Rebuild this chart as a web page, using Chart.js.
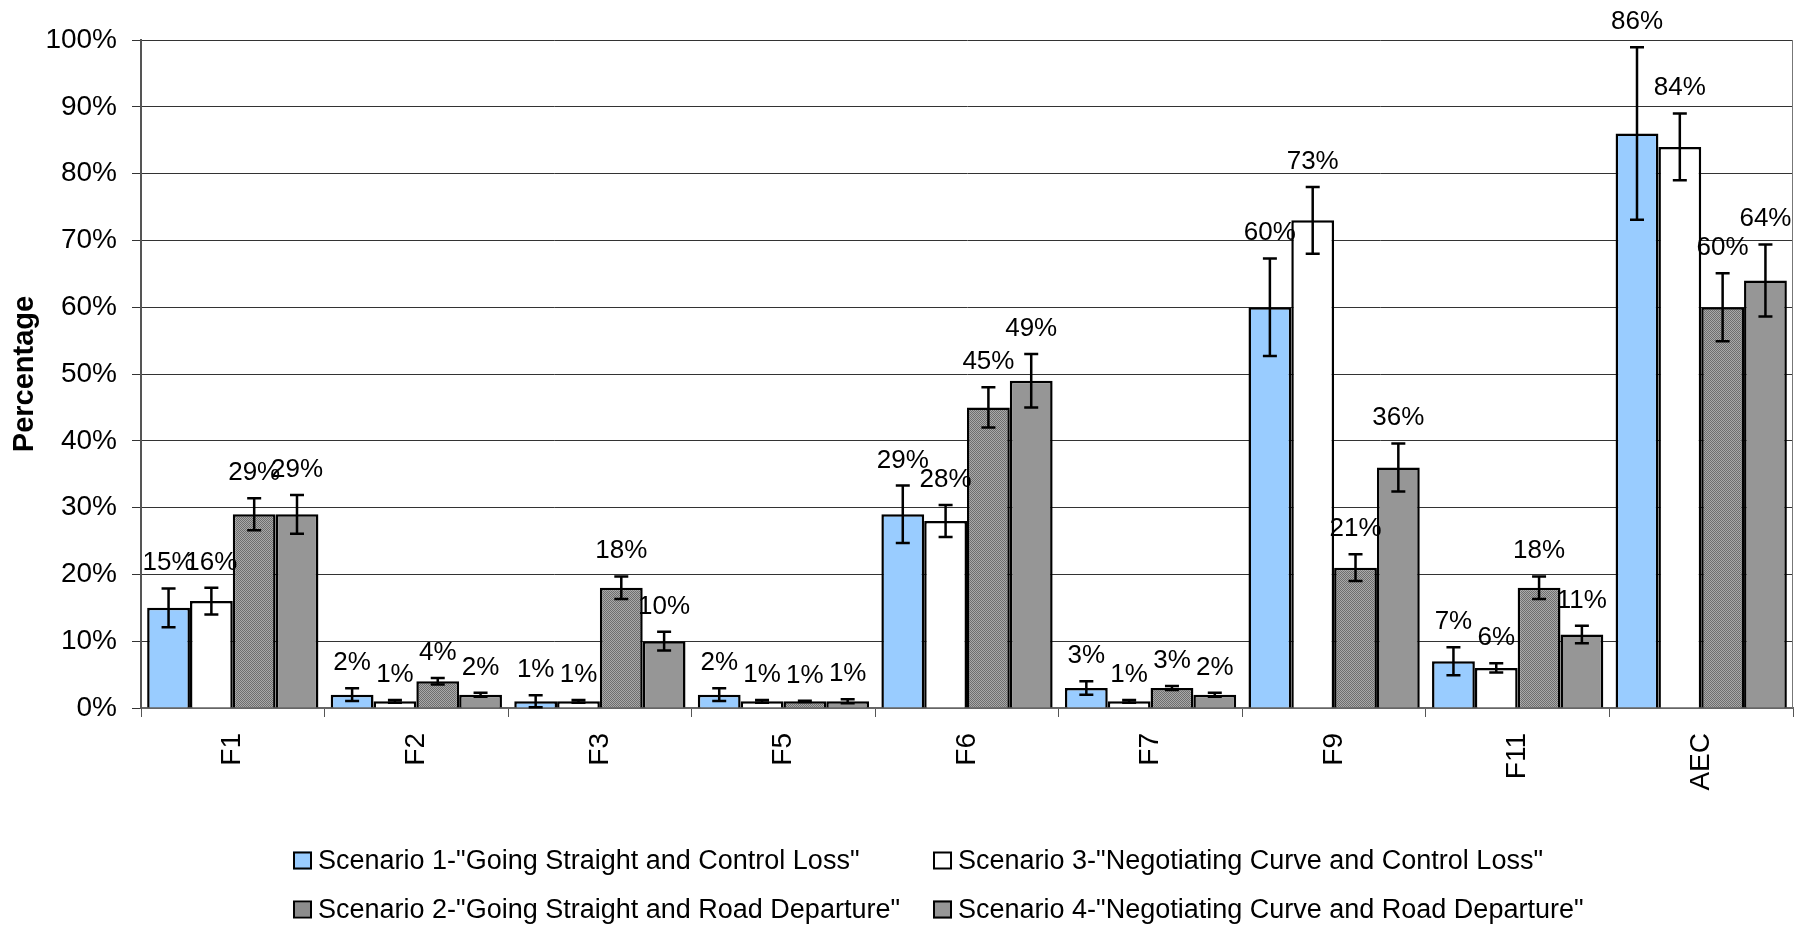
<!DOCTYPE html>
<html lang="en">
<head>
  <meta charset="UTF-8" />
  <title>Percentage by factor and scenario</title>
  <script src="https://cdn.jsdelivr.net/npm/chart.js"></script>
  <style>
    html, body { margin: 0; padding: 0; background: #fff; }
    #wrap { position: relative; width: 1809px; height: 926px; }
    #legend {
      position: absolute; left: 0; top: 0; width: 1809px; height: 926px;
      pointer-events: none;
      font-family: 'Liberation Sans', Arial, sans-serif; font-size: 27px; color: #000;
    }
    .item { position: absolute; display: flex; align-items: center; white-space: nowrap; transform: translateY(-50%); }
    .box { width: 15px; height: 14px; border: 2px solid #000; margin-right: 6px; }
  </style>
</head>
<body>
  <div id="wrap">
    <canvas id="chart" width="1809" height="926"></canvas>
    <div id="legend"></div>
  </div>

  <script>
    const categories = ['F1', 'F2', 'F3', 'F5', 'F6', 'F7', 'F9', 'F11', 'AEC'];
    const yTicks = [0, 10, 20, 30, 40, 50, 60, 70, 80, 90, 100];

    const seriesNames = [
      'Scenario 1-"Going Straight and Control Loss"',
      'Scenario 3-"Negotiating Curve and Control Loss"',
      'Scenario 2-"Going Straight and Road Departure"',
      'Scenario 4-"Negotiating Curve and Road Departure"'
    ];

    // bar values (%)
    const scenario1 = [15, 2, 1, 2, 29, 3, 60, 7, 86];
    const scenario3 = [16, 1, 1, 1, 28, 1, 73, 6, 84];
    const scenario2 = [29, 4, 18, 1, 45, 3, 21, 18, 60];
    const scenario4 = [29, 2, 10, 1, 49, 2, 36, 11, 64];

    // +/- error (%)
    const error1 = [2.9, 0.95, 0.9, 0.95, 4.3, 1.0, 7.3, 2.1, 12.9];
    const error3 = [2.0, 0.2, 0.2, 0.2, 2.4, 0.2, 5.0, 0.7, 5.0];
    const error2 = [2.4, 0.5, 1.7, 0.1, 3.0, 0.3, 2.0, 1.7, 5.1];
    const error4 = [2.9, 0.3, 1.4, 0.3, 4.0, 0.3, 3.6, 1.3, 5.4];

    const FONT = "'Liberation Sans', Arial, sans-serif";

    // fine stipple used for scenario 2
    function stipple() {
      const c = document.createElement('canvas');
      c.width = 2; c.height = 2;
      const g = c.getContext('2d');
      g.fillStyle = '#a9a9a9'; g.fillRect(0, 0, 2, 2);
      g.fillStyle = '#6e6e6e'; g.fillRect(0, 0, 1, 1); g.fillRect(1, 1, 1, 1);
      return g.createPattern(c, 'repeat');
    }

    const errorBars = {
      id: 'errorBars',
      afterDatasetsDraw(chart) {
        const ctx = chart.ctx;
        const y = chart.scales.y;
        ctx.save();
        // right edge of the plot
        ctx.strokeStyle = '#777';
        ctx.lineWidth = 1;
        ctx.beginPath();
        ctx.moveTo(chart.chartArea.right - 0.5, chart.chartArea.top);
        ctx.lineTo(chart.chartArea.right - 0.5, chart.chartArea.bottom);
        ctx.stroke();

        chart.data.datasets.forEach((ds, i) => {
          const meta = chart.getDatasetMeta(i);
          meta.data.forEach((bar, j) => {
            const v = ds.data[j], e = ds.errors[j];
            const top = y.getPixelForValue(v + e);
            const bot = y.getPixelForValue(Math.max(v - e, 0));
            ctx.strokeStyle = '#000';
            ctx.lineWidth = 2.5;
            ctx.beginPath();
            ctx.moveTo(bar.x, top); ctx.lineTo(bar.x, bot);
            ctx.moveTo(bar.x - 7, top); ctx.lineTo(bar.x + 7, top);
            ctx.moveTo(bar.x - 7, bot); ctx.lineTo(bar.x + 7, bot);
            ctx.stroke();

            ctx.fillStyle = '#000';
            ctx.font = '26px ' + FONT;
            ctx.textAlign = 'center';
            ctx.textBaseline = 'alphabetic';
            ctx.fillText(v + '%', bar.x, top - 18);
          });
        });
        ctx.restore();
      }
    };

    const colors = ['#99ccff', '#ffffff', stipple(), '#969696'];
    const values = [scenario1, scenario3, scenario2, scenario4];
    const errors = [error1, error3, error2, error4];

    new Chart(document.getElementById('chart'), {
      type: 'bar',
      data: {
        labels: categories,
        datasets: values.map((data, i) => ({
          label: seriesNames[i],
          data: data,
          errors: errors[i],
          backgroundColor: colors[i],
          borderColor: '#000',
          borderWidth: 2.5,
          categoryPercentage: 0.933,
          barPercentage: 1.0
        }))
      },
      options: {
        responsive: false,
        animation: false,
        devicePixelRatio: 1,
        layout: { padding: { top: 40, right: 16, left: 0, bottom: 0 } },
        plugins: { legend: { display: false }, tooltip: { enabled: false } },
        scales: {
          x: {
            afterFit: s => { s.height = 218; },
            grid: { offset: true, drawOnChartArea: false, tickLength: 9, color: '#555', lineWidth: 1 },
            border: { color: '#666', width: 2 },
            ticks: {
              autoSkip: false, minRotation: 90, maxRotation: 90, padding: 16,
              color: '#000', font: { family: FONT, size: 28 }
            }
          },
          y: {
            min: 0, max: 100,
            afterFit: s => { s.width = 141; },
            afterBuildTicks: s => { s.ticks = yTicks.map(v => ({ value: v })); },
            grid: { color: '#333', lineWidth: 1, tickLength: 9 },
            border: { color: '#555', width: 2 },
            ticks: {
              padding: 15, color: '#000', font: { family: FONT, size: 28 },
              callback: v => v + '%'
            },
            title: {
              display: true, text: 'Percentage', color: '#000',
              font: { family: FONT, size: 29, weight: 'bold' },
              padding: { top: 8, bottom: 0 }
            }
          }
        }
      },
      plugins: [errorBars]
    });

    // two-column legend under the plot
    const legendPos = [[293, 860], [933, 860], [293, 909], [933, 909]];
    const swatches = [
      '#99ccff', '#ffffff',
      'repeating-conic-gradient(#6e6e6e 0 25%, #a9a9a9 0 50%) 0 0 / 2px 2px',
      '#969696'
    ];
    const legend = document.getElementById('legend');
    seriesNames.forEach((name, i) => {
      const item = document.createElement('div');
      item.className = 'item';
      item.style.left = legendPos[i][0] + 'px';
      item.style.top = legendPos[i][1] + 'px';
      const box = document.createElement('span');
      box.className = 'box';
      box.style.background = swatches[i];
      const label = document.createElement('span');
      label.textContent = name;
      item.appendChild(box);
      item.appendChild(label);
      legend.appendChild(item);
    });
  </script>
</body>
</html>
